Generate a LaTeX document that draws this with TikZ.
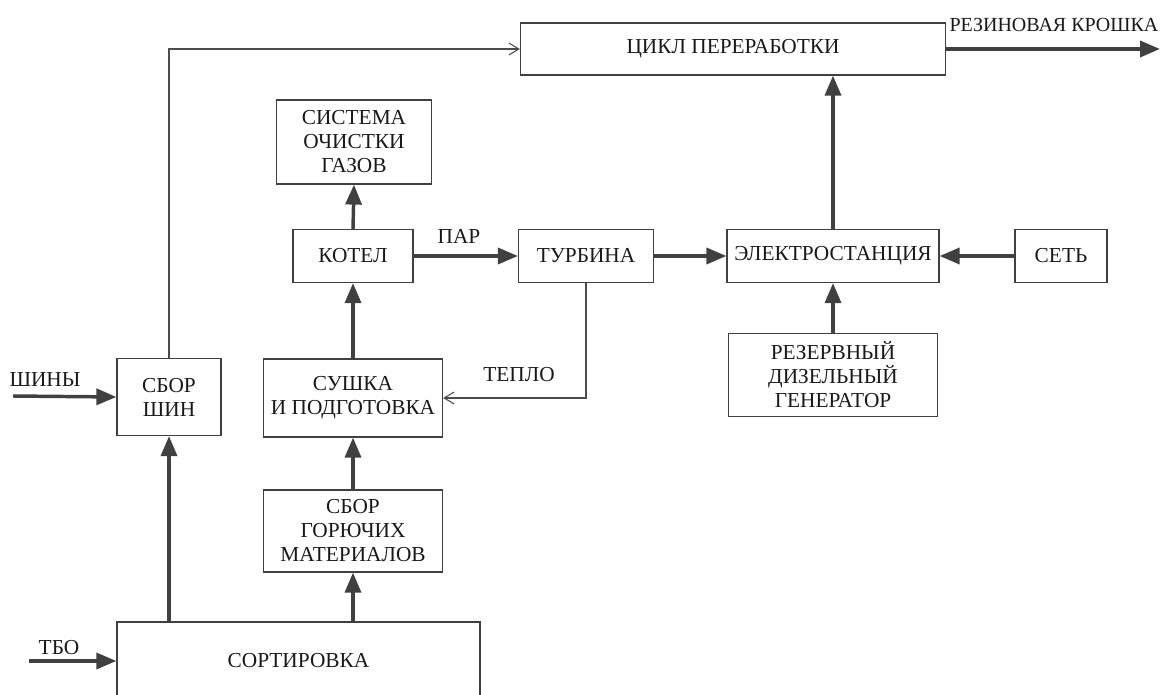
\documentclass[tikz,border=0pt]{standalone}
\usepackage{fontspec}
\setmainfont{Liberation Serif}
\usetikzlibrary{arrows.meta,positioning}

\tikzset{
    txt/.style={font=\fontsize{16}{18}\selectfont, align=center, text=black!90},
    block/.style={txt, draw=black!75, line width=0.9pt, inner sep=0pt},
    flow/.style={draw=black!75, line width=2.6pt, -{Triangle[length=15pt,width=12pt]}},
    thinflow/.style={draw=black!70, line width=0.8pt, -{Straight Barb[length=7.5pt,width=9pt]}},
}

\begin{document}
\begin{tikzpicture}[x=0.75pt,y=-0.75pt]
    \path[use as bounding box,clip] (0,0) rectangle (1163,695);
    % blocks
    \node[block, minimum width=318.75pt, minimum height=39pt] (cycle) at (733,49) {ЦИКЛ ПЕРЕРАБОТКИ};
    \node[block, minimum width=116.25pt, minimum height=63pt] (gas) at (354,142) {СИСТЕМА\\ОЧИСТКИ\\ГАЗОВ};
    \node[block, minimum width=90pt, minimum height=39.75pt] (boiler) at (353,256) {КОТЕЛ};
    \node[block, minimum width=101.25pt, minimum height=39.75pt] (turbine) at (586,256) {ТУРБИНА};
    \node[block, minimum width=159pt, minimum height=39.75pt] (plant) at (833,256) {ЭЛЕКТРОСТАНЦИЯ};
    \node[block, minimum width=69pt, minimum height=39.75pt] (grid) at (1061,256) {СЕТЬ};
    \node[block, minimum width=156.75pt, minimum height=62.25pt] (diesel) at (833,375) {РЕЗЕРВНЫЙ\\ДИЗЕЛЬНЫЙ\\ГЕНЕРАТОР};
    \node[block, minimum width=134.25pt, minimum height=58.5pt] (drying) at (353,398) {СУШКА\\И ПОДГОТОВКА};
    \node[block, minimum width=78pt, minimum height=57.75pt] (tires) at (169,397) {СБОР\\ШИН};
    \node[block, minimum width=134.25pt, minimum height=61.5pt] (fuel) at (353,531) {СБОР\\ГОРЮЧИХ\\МАТЕРИАЛОВ};
    \node[block, minimum width=272.25pt, minimum height=58.5pt] (sorting) at (298.5,661) {СОРТИРОВКА};
    % inputs and output
    \coordinate (crumbend) at (1160,49);
    \coordinate (tiresin) at (13,396);
    \coordinate (wastein) at (29,661);
    \node[txt, font=\fontsize{15}{18}\selectfont, anchor=east, inner sep=1pt] (crumb) at (1160,25) {РЕЗИНОВАЯ КРОШКА};
    \node[txt] (tireslbl) at (45,380) {ШИНЫ};
    \node[txt] (wastelbl) at (59,648) {ТБО};
    \node[txt] (steam) at (459,236) {ПАР};
    \node[txt] (heat) at (519,375) {ТЕПЛО};
    % thick flows
    \draw[flow] (cycle.east) -- (crumbend);
    \draw[flow] (tiresin) -- (tires.west);
    \draw[flow] (wastein) -- (sorting.west);
    \draw[flow] (tires.south |- sorting.north) -- (tires.south);
    \draw[flow] (fuel.south |- sorting.north) -- (fuel.south);
    \draw[flow] (fuel.north) -- (drying.south);
    \draw[flow] (drying.north) -- (boiler.south);
    \draw[flow] (boiler.north) -- (gas.south);
    \draw[flow] (boiler.east) -- (turbine.west);
    \draw[flow] (turbine.east) -- (plant.west);
    \draw[flow] (grid.west) -- (plant.east);
    \draw[flow] (diesel.north) -- (plant.south);
    \draw[flow] (plant.north) -- (plant.north |- cycle.south);
    % thin flows
    \draw[thinflow] (tires.north) |- (cycle.west);
    \draw[thinflow] (turbine.south) |- (drying.east);
\end{tikzpicture}
\end{document}
